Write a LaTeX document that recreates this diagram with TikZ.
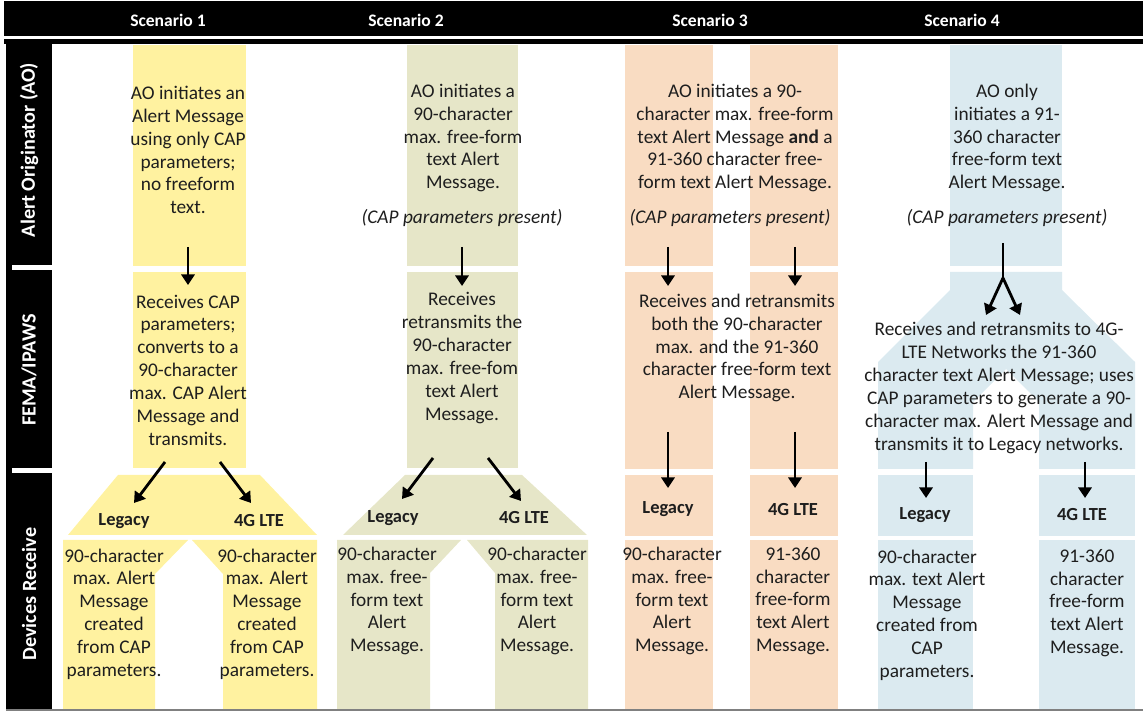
\documentclass[tikz,border=0pt]{standalone}
\usepackage{fontspec}
\setmainfont{Carlito}
\usetikzlibrary{arrows.meta}
\definecolor{ink}{RGB}{30,30,30}
\definecolor{yellowfill}{RGB}{255,242,160}
\definecolor{olivefill}{RGB}{230,230,200}
\definecolor{peachfill}{RGB}{249,220,194}
\definecolor{bluefill}{RGB}{219,234,240}
\tikzset{
    txt/.style={text=ink, align=center, inner sep=0pt, font=\fontsize{11}{13}\selectfont},
    capnote/.style={txt, font=\fontsize{11}{13}\selectfont\itshape},
    net/.style={text=ink, inner sep=0pt, font=\fontsize{10.5}{12}\selectfont\bfseries},
    head/.style={text=white, inner sep=0pt, font=\fontsize{10}{12}\selectfont\bfseries},
    rowhead/.style={text=white, inner sep=0pt, rotate=90, font=\fontsize{11.5}{13}\selectfont\bfseries},
    flow/.style={-{Triangle[width=7.5pt,length=6pt]}, line width=1.6pt},
    fork/.style={line width=1.6pt}
}

\begin{document}
\begin{tikzpicture}[x=0.02cm, y=-0.02cm]
                        \useasboundingbox (0,0) rectangle (1143,715);

                        % frame: header bar, row column
                        \fill[black] (4,1) rectangle (1143,36);
                        \fill[black] (4,39) rectangle (1143,44);
                        \fill[black] (6,40) rectangle (52,710);
                        \fill[white] (12,265) rectangle (52,270);
                        \fill[white] (12,468) rectangle (52,473);
                        \draw[gray, line width=0.6pt] (6,710) -- (1143,710);

                        \node[head] (h1) at (168,20) {Scenario 1};
                        \node[head] (h2) at (406,20) {Scenario 2};
                        \node[head] (h3) at (710,20) {Scenario 3};
                        \node[head] (h4) at (962,20) {Scenario 4};

                        \node[rowhead] (r1) at (29,150) {Alert Originator (AO)};
                        \node[rowhead] (r2) at (29,370) {FEMA/IPAWS};
                        \node[rowhead] (r3) at (29,594) {Devices Receive};

                        % scenario 1
                        \fill[yellowfill] (133,45) rectangle (246,266);
                        \fill[yellowfill] (133,272) rectangle (246,468);
                        \fill[yellowfill] (118,475) -- (260,475) -- (317,535) -- (68,535) -- cycle;
                        \fill[yellowfill] (63,540) -- (188,540) -- (155,574) -- (155,709) -- (63,709) -- cycle;
                        \fill[yellowfill] (192,540) -- (317,540) -- (317,709) -- (223,709) -- (223,574) -- cycle;

                        % scenario 2
                        \fill[olivefill] (407,45) rectangle (518,266);
                        \fill[olivefill] (407,272) rectangle (518,468);
                        \fill[olivefill] (405,475) -- (522,475) -- (587,535) -- (343,535) -- cycle;
                        \fill[olivefill] (337,540) -- (461,540) -- (430,573) -- (430,709) -- (337,709) -- cycle;
                        \fill[olivefill] (467,540) -- (588,540) -- (588,709) -- (495,709) -- (495,573) -- cycle;

                        % scenario 3
                        \foreach \xa/\xb in {625/713, 750/838} {
                            \fill[peachfill] (\xa,45) rectangle (\xb,266);
                            \fill[peachfill] (\xa,272) rectangle (\xb,469);
                            \fill[peachfill] (\xa,475) rectangle (\xb,536);
                            \fill[peachfill] (\xa,540) rectangle (\xb,709);
                        }

                        % scenario 4
                        \fill[bluefill] (950,45) rectangle (1062,266);
                        \fill[bluefill] (950,272) -- (1062,272) -- (1062,290) -- (1135,362) -- (1135,469)
                            -- (1039,469) -- (1039,402) -- (1006,369) -- (973,402) -- (973,469)
                            -- (878,469) -- (878,362) -- (950,290) -- cycle;
                        \foreach \xa/\xb in {878/973, 1039/1135} {
                            \fill[bluefill] (\xa,475) rectangle (\xb,536);
                            \fill[bluefill] (\xa,540) rectangle (\xb,709);
                        }

                        % texts
                        \node[txt] (ao1) at (188,150) {AO initiates an\\Alert Message\\using only CAP\\parameters;\\no freeform\\text.};
                        \node[txt] (fema1) at (188,370) {Receives CAP\\parameters;\\converts to a\\90-character\\max. CAP Alert\\Message and\\transmits.};
                        \node[net] (leg1) at (124,521) {Legacy};
                        \node[net] (lte1) at (259,521) {4G LTE};
                        \node[txt] (dev1l) at (114,614) {90-character\\max. Alert\\Message\\created\\from CAP\\parameters.};
                        \node[txt] (dev1r) at (267,614) {90-character\\max. Alert\\Message\\created\\from CAP\\parameters.};

                        \node[txt] (ao2) at (463,138) {AO initiates a\\90-character\\max. free-form\\text Alert\\Message.};
                        \node[capnote] (cap2) at (462,218) {(CAP parameters present)};
                        \node[txt] (fema2) at (462,358) {Receives\\retransmits the\\90-character\\max. free-fom\\text Alert\\Message.};
                        \node[net] (leg2) at (393,518) {Legacy};
                        \node[net] (lte2) at (524,518) {4G LTE};
                        \node[txt] (dev2l) at (387,601) {90-character\\max. free-\\form text\\Alert\\Message.};
                        \node[txt] (dev2r) at (537,601) {90-character\\max. free-\\form text\\Alert\\Message.};

                        \node[txt] (ao3) at (735,138) {AO initiates a 90-\\character max. free-form\\text Alert Message \textbf{and} a\\91-360 character free-\\form text Alert Message.};
                        \node[capnote] (cap3) at (730,218) {(CAP parameters present)};
                        \node[txt] (fema3) at (737,348) {Receives and retransmits\\both the 90-character\\max. and the 91-360\\character free-form text\\Alert Message.};
                        \node[net] (leg3) at (668,509) {Legacy};
                        \node[net] (lte3) at (793,510) {4G LTE};
                        \node[txt] (dev3l) at (672,601) {90-character\\max. free-\\form text\\Alert\\Message.};
                        \node[txt] (dev3r) at (793,601) {91-360\\character\\free-form\\text Alert\\Message.};

                        \node[txt] (ao4) at (1007,138) {AO only\\initiates a 91-\\360 character\\free-form text\\Alert Message.};
                        \node[capnote] (cap4) at (1007,218) {(CAP parameters present)};
                        \node[txt] (fema4) at (999,388) {Receives and retransmits to 4G-\\LTE Networks the 91-360\\character text Alert Message; uses\\CAP parameters to generate a 90-\\character max. Alert Message and\\transmits it to Legacy networks.};
                        \node[net] (leg4) at (925,515) {Legacy};
                        \node[net] (lte4) at (1082,515) {4G LTE};
                        \node[txt] (dev4l) at (927,615) {90-character\\max. text Alert\\Message\\created from\\CAP\\parameters.};
                        \node[txt] (dev4r) at (1087,603) {91-360\\character\\free-form\\text Alert\\Message.};

                        % arrow ends
                        \coordinate (a1s) at (188,247); \coordinate (a1e) at (188,285);
                        \coordinate (b1s) at (165,462); \coordinate (b1e) at (134,503);
                        \coordinate (c1s) at (220,462); \coordinate (c1e) at (251,503);
                        \coordinate (a2s) at (462,247); \coordinate (a2e) at (462,286);
                        \coordinate (b2s) at (433,458); \coordinate (b2e) at (402,499);
                        \coordinate (c2s) at (488,458); \coordinate (c2e) at (521,501);
                        \coordinate (a3s) at (668,247); \coordinate (a3e) at (668,286);
                        \coordinate (d3s) at (795,247); \coordinate (d3e) at (795,286);
                        \coordinate (b3s) at (668,432); \coordinate (b3e) at (668,488);
                        \coordinate (c3s) at (795,432); \coordinate (c3e) at (795,488);
                        \coordinate (a4s) at (1003,243); \coordinate (a4m) at (1003,278);
                        \coordinate (a4l) at (986,315); \coordinate (a4r) at (1020,315);
                        \coordinate (b4s) at (926,462); \coordinate (b4e) at (926,498);
                        \coordinate (c4s) at (1085,462); \coordinate (c4e) at (1085,498);

                        \draw[flow] (a1s) -- (a1e);
                        \draw[flow] (b1s) -- (b1e);
                        \draw[flow] (c1s) -- (c1e);
                        \draw[flow] (a2s) -- (a2e);
                        \draw[flow] (b2s) -- (b2e);
                        \draw[flow] (c2s) -- (c2e);
                        \draw[flow] (a3s) -- (a3e);
                        \draw[flow] (d3s) -- (d3e);
                        \draw[flow] (b3s) -- (b3e);
                        \draw[flow] (c3s) -- (c3e);
                        \draw[fork] (a4s) -- (a4m);
                        \draw[flow] (a4m) -- (a4l);
                        \draw[flow] (a4m) -- (a4r);
                        \draw[flow] (b4s) -- (b4e);
                        \draw[flow] (c4s) -- (c4e);
                    \end{tikzpicture}
\end{document}
